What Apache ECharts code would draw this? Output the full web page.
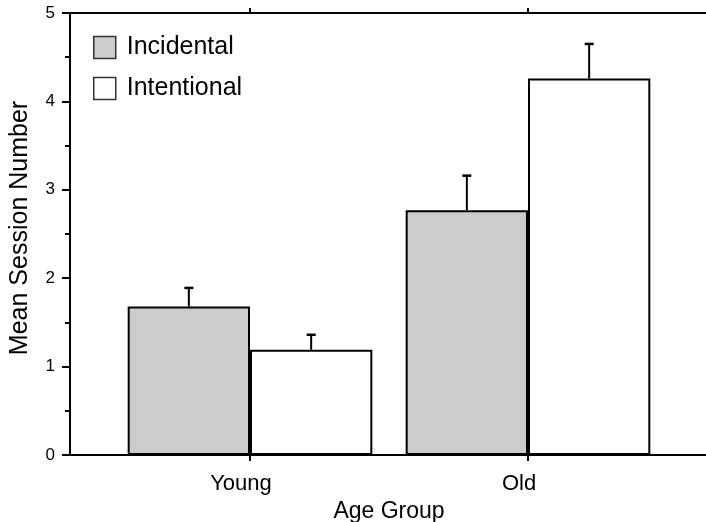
<!DOCTYPE html>
<html>
<head>
<meta charset="utf-8">
<script src="https://cdn.jsdelivr.net/npm/echarts@6/dist/echarts.min.js"></script>
<style>
  html, body { margin: 0; padding: 0; background: #fff; }
  #chart { width: 706px; height: 522px; }
</style>
</head>
<body>
<div id="chart"></div>
<script>
const categories = ["Young", "Old"];
const incidental = [1.68, 2.77];
const intentional = [1.19, 4.26];
const incidentalErr = [0.21, 0.39];
const intentionalErr = [0.17, 0.39];
const yTicks = [0, 1, 2, 3, 4, 5];

const FONT = "Liberation Sans";
const barOffset = 0.22; // half of the 44% bar width, in band units

function errorItem(offset) {
  return function (params, api) {
    const base = api.coord([api.value(0), api.value(1)]);
    const top = api.coord([api.value(0), api.value(1) + api.value(2)]);
    const band = api.size([1, 0])[0];
    const x = base[0] + offset * band;
    return {
      type: "group",
      children: [
        { type: "line", shape: { x1: x, y1: base[1], x2: x, y2: top[1] },
          style: { stroke: "#000", lineWidth: 2 } },
        { type: "line", shape: { x1: x - 4.5, y1: top[1], x2: x + 4.5, y2: top[1] },
          style: { stroke: "#000", lineWidth: 2.5 } }
      ]
    };
  };
}

var chartDom = document.getElementById("chart");
var myChart = echarts.init(chartDom, null, { renderer: "canvas" });

var option = {
  animation: false,
  textStyle: { fontFamily: FONT, color: "#000" },
  grid: [
    { left: 111, right: 39, top: 13, bottom: 67, outerBoundsMode: "none", containLabel: false },
    { left: 70, right: 0, top: 13, bottom: 67, outerBoundsMode: "none", containLabel: false }
  ],
  legend: {
    data: ["Incidental", "Intentional"],
    orient: "vertical",
    left: 93,
    top: 35,
    padding: 0,
    itemWidth: 22,
    itemHeight: 22,
    itemGap: 16,
    icon: "rect",
    itemStyle: { borderColor: "#333", borderWidth: 1.5 },
    textStyle: { fontFamily: FONT, fontSize: 25, color: "#000", padding: [0, 0, 0, 6] }
  },
  xAxis: [
    {
      type: "category",
      gridIndex: 0,
      data: categories,
      position: "bottom",
      name: "Age Group",
      nameLocation: "middle",
      nameGap: 44,
      nameTextStyle: { fontFamily: FONT, fontSize: 23, color: "#000" },
      axisLine: { show: false },
      axisTick: { show: true, alignWithLabel: true, length: 6, lineStyle: { color: "#000", width: 2 } },
      axisLabel: { fontFamily: FONT, fontSize: 22, color: "#000", margin: 18, padding: [0, 18, 0, 0] }
    },
    {
      type: "category",
      gridIndex: 0,
      data: categories,
      position: "top",
      axisLine: { show: false },
      axisTick: { show: true, alignWithLabel: true, length: 5, lineStyle: { color: "#000", width: 2 } },
      axisLabel: { show: false }
    },
    {
      type: "value",
      gridIndex: 1,
      position: "bottom",
      min: 0, max: 1,
      axisLine: { show: true, lineStyle: { color: "#000", width: 2 } },
      axisTick: { show: false },
      axisLabel: { show: false },
      splitLine: { show: false }
    },
    {
      type: "value",
      gridIndex: 1,
      position: "top",
      min: 0, max: 1,
      axisLine: { show: true, lineStyle: { color: "#000", width: 2 } },
      axisTick: { show: false },
      axisLabel: { show: false },
      splitLine: { show: false }
    }
  ],
  yAxis: [
    {
      type: "value",
      gridIndex: 0,
      offset: 41,
      min: yTicks[0],
      max: yTicks[yTicks.length - 1],
      interval: 1,
      name: "Mean Session Number",
      nameLocation: "middle",
      nameGap: 37,
      nameTextStyle: { fontFamily: FONT, fontSize: 25, color: "#000", padding: [0, 0, 0, 12] },
      axisLine: { show: true, lineStyle: { color: "#000", width: 2 } },
      axisTick: { show: true, length: 8, lineStyle: { color: "#000", width: 2 } },
      minorTick: { show: true, splitNumber: 2, length: 5, lineStyle: { color: "#000", width: 2 } },
      axisLabel: { fontFamily: FONT, fontSize: 17, color: "#000", margin: 15 },
      splitLine: { show: false }
    },
    {
      type: "value",
      gridIndex: 1,
      min: 0, max: 5,
      show: false
    }
  ],
  series: [
    {
      name: "Incidental",
      type: "bar",
      xAxisIndex: 0,
      yAxisIndex: 0,
      data: incidental,
      barWidth: "44%",
      barGap: "0%",
      itemStyle: { color: "#cccccc", borderColor: "#000", borderWidth: 2 }
    },
    {
      name: "Intentional",
      type: "bar",
      xAxisIndex: 0,
      yAxisIndex: 0,
      data: intentional,
      barWidth: "44%",
      barGap: "0%",
      itemStyle: { color: "#ffffff", borderColor: "#000", borderWidth: 2 }
    },
    {
      name: "incErr",
      type: "custom",
      xAxisIndex: 0,
      yAxisIndex: 0,
      z: 5,
      renderItem: errorItem(-barOffset),
      data: categories.map((c, i) => [i, incidental[i], incidentalErr[i]])
    },
    {
      name: "intErr",
      type: "custom",
      xAxisIndex: 0,
      yAxisIndex: 0,
      z: 5,
      renderItem: errorItem(barOffset),
      data: categories.map((c, i) => [i, intentional[i], intentionalErr[i]])
    }
  ]
};

myChart.setOption(option);
</script>
</body>
</html>
